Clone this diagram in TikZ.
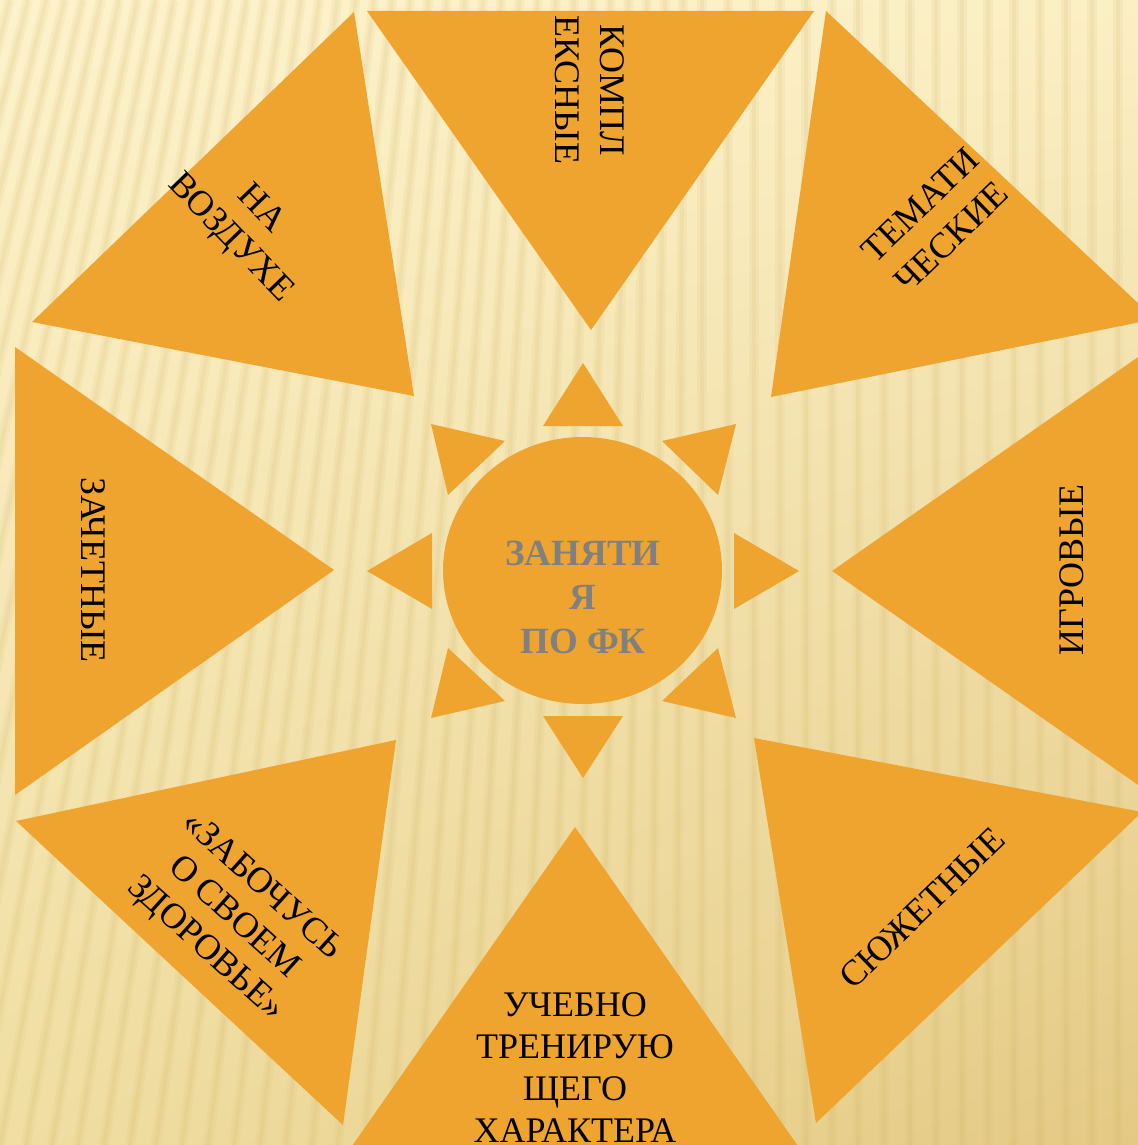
\documentclass[tikz,border=0pt]{standalone}
\usepackage{fontspec}
\setmainfont{Liberation Serif}
\usetikzlibrary{shapes.geometric,shadings}
\definecolor{ray}{RGB}{239,164,47}
\definecolor{cgray}{RGB}{128,128,128}
\definecolor{bgA}{RGB}{253,242,203}
\definecolor{bgB}{RGB}{251,239,196}
\definecolor{bgC}{RGB}{240,222,162}
\definecolor{bgD}{RGB}{228,201,132}
\definecolor{stripe}{RGB}{210,180,100}
\begin{document}
\begin{tikzpicture}[x=0.5pt,y=-0.5pt,
  tri/.style={fill=ray},
  stripesoft/.style={stripe, line width=5pt, opacity=0.10},
  stripecore/.style={stripe, line width=2pt, opacity=0.12},
  lbl/.style={font=\fontsize{18}{22}\selectfont, align=center, inner sep=0pt, text=black},
  sun/.style={ellipse, fill=ray, minimum width=139.5pt, minimum height=133.5pt, inner sep=0pt},
  ctext/.style={font=\fontsize{18.5}{22}\selectfont\bfseries, align=center, inner sep=0pt, text=cgray}]
\useasboundingbox (0,0) rectangle (1138,1145);
\clip (0,0) rectangle (1138,1145);
\shade[upper left=bgA, upper right=bgB, lower left=bgC, lower right=bgD] (0,0) rectangle (1138,1145);
\foreach \i in {-14,...,44} {
  \pgfmathsetmacro\xb{\i*26}
  \pgfmathsetmacro\xt{\xb + max(0,700-\xb)*0.3}
  \draw[stripesoft] (\xb,1145) -- (\xt,0);
  \draw[stripecore] (\xb,1145) -- (\xt,0);
}
% big triangles
\fill[tri] (367,11) -- (814,11) -- (591,330) -- cycle;
\fill[tri] (826,11) -- (1155,319) -- (771,397) -- cycle;
\fill[tri] (1151,348) -- (1151,794) -- (832,571) -- cycle;
\fill[tri] (754,738) -- (1142,812) -- (816,1123) -- cycle;
\fill[tri] (352,1146) -- (798,1146) -- (575,827) -- cycle;
\fill[tri] (16,821) -- (396,740) -- (343,1125) -- cycle;
\fill[tri] (15,347) -- (15,795) -- (334,570) -- cycle;
\fill[tri] (354,12) -- (32,322) -- (414,396) -- cycle;
% small rays
\fill[tri] (543,426) -- (623,426) -- (583,363) -- cycle;
\fill[tri] (543,716) -- (623,716) -- (583,778) -- cycle;
\fill[tri] (432,533) -- (432,609) -- (367,571) -- cycle;
\fill[tri] (734,533) -- (734,609) -- (799,571) -- cycle;
\fill[tri] (431,424) -- (505,441) -- (448,495) -- cycle;
\fill[tri] (736,424) -- (662,441) -- (718,495) -- cycle;
\fill[tri] (431,718) -- (505,701) -- (448,648) -- cycle;
\fill[tri] (736,718) -- (662,701) -- (718,648) -- cycle;
% sun
\node[sun] (c) at (582.5,570.5) {};
\node[ctext] (ct) at (583,597) {ЗАНЯТИ\\Я\\ПО ФК};
% labels
\node[lbl, rotate=-90, font=\fontsize{18}{22.5}\selectfont] (t1) at (590,90) {КОМПЛ\\ЕКСНЫЕ};
\node[lbl, rotate=44, font=\fontsize{18}{22.5}\selectfont] (t2) at (936,221) {ТЕМАТИ\\ЧЕСКИЕ};
\node[lbl, rotate=90] (t3) at (1072,570) {ИГРОВЫЕ};
\node[lbl, rotate=44] (t4) at (922,908) {СЮЖЕТНЫЕ};
\node[lbl, font=\fontsize{18}{21}\selectfont] (t5) at (575,1068) {УЧЕБНО\\ТРЕНИРУЮ\\ЩЕГО\\ХАРАКТЕРА};
\node[lbl, rotate=-42, font=\fontsize{18}{21}\selectfont] (t6) at (233,918) {«ЗАБОЧУСЬ\\О СВОЕМ\\ЗДОРОВЬЕ»};
\node[lbl, rotate=-90] (t7) at (93,570) {ЗАЧЕТНЫЕ};
\node[lbl, rotate=-46, font=\fontsize{18}{21}\selectfont] (t8) at (245,224) {НА\\ВОЗДУХЕ};
\end{tikzpicture}
\end{document}
